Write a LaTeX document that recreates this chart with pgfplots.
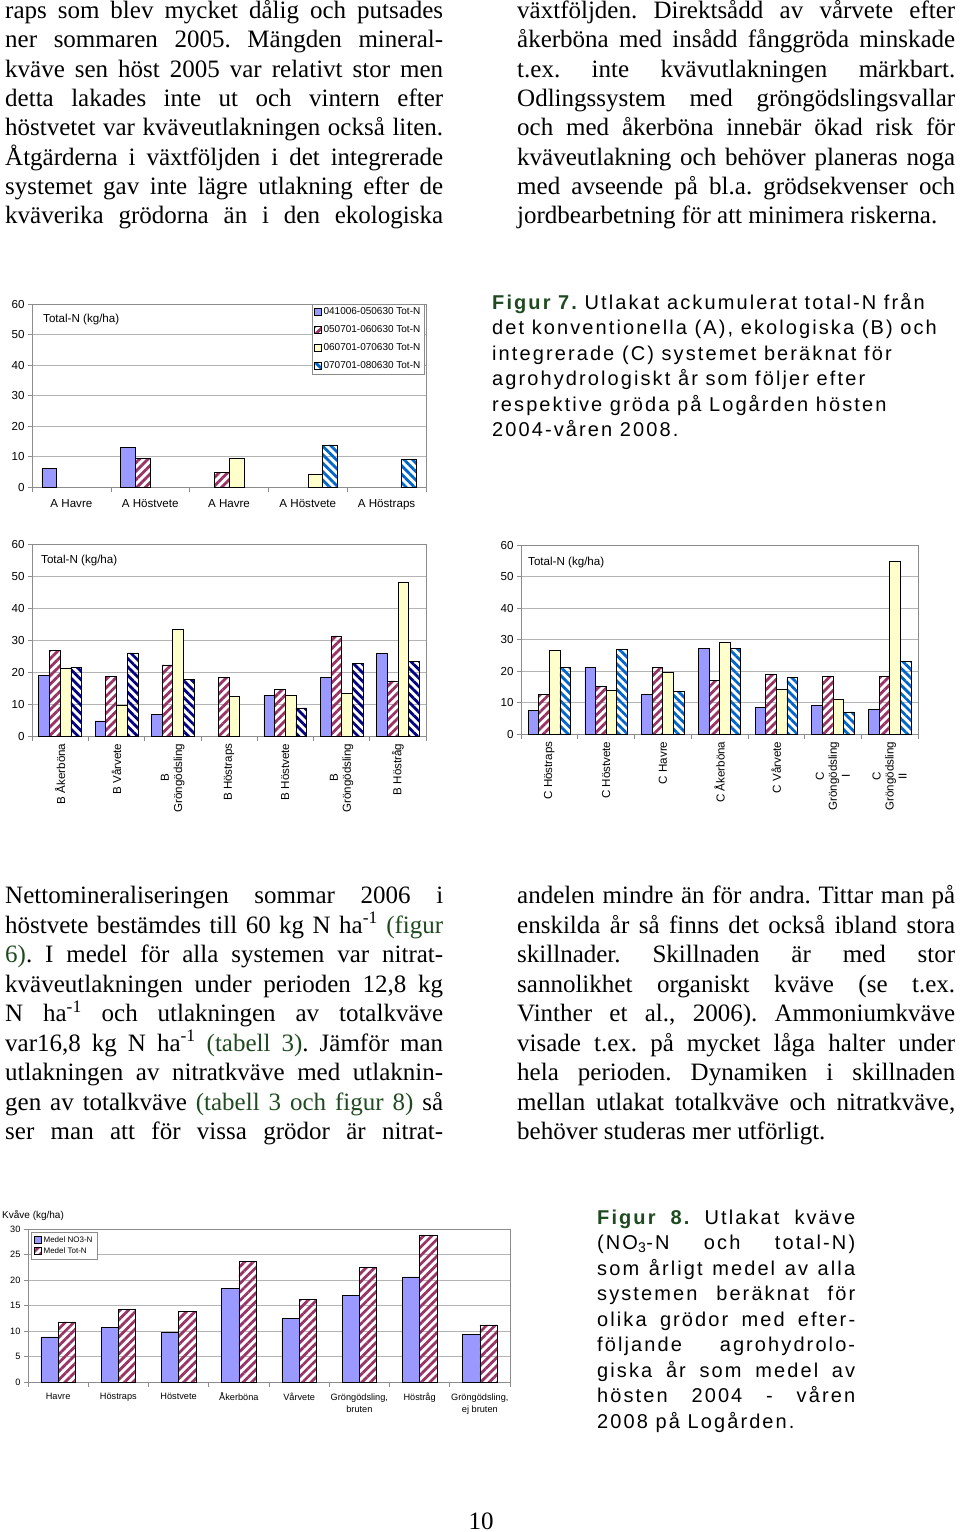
\documentclass[border=0pt]{standalone}
\usepackage{fontspec}
\setmainfont{Liberation Serif}
\setsansfont{Liberation Sans}
\newfontfamily\capfont[LetterSpace=10.5]{Liberation Sans}
\usepackage{pgfplots}
\pgfplotsset{compat=1.18}
\usetikzlibrary{patterns.meta}
\frenchspacing

\definecolor{peri}{HTML}{9999FF}
\definecolor{plum}{HTML}{993366}
\definecolor{cream}{HTML}{FFFFCC}
\definecolor{hblue}{HTML}{0066CC}
\definecolor{hnavy}{HTML}{000080}
\definecolor{axgray}{HTML}{8C8C8C}
\definecolor{gridgray}{HTML}{B4B4B4}
\definecolor{refgreen}{HTML}{1F4A1F}

\tikzset{
  s1/.style={fill=peri, draw=black, line width=0.6pt},
  s2/.style={draw=black, line width=0.6pt, pattern={Lines[angle=45,distance=6pt,line width=2.8pt]}, pattern color=plum},
  s3/.style={fill=cream, draw=black, line width=0.6pt},
  s4/.style={draw=black, line width=0.6pt, pattern={Lines[angle=-45,distance=6pt,line width=2.8pt]}, pattern color=hblue},
  s4n/.style={draw=black, line width=0.6pt, pattern={Lines[angle=-45,distance=6pt,line width=2.8pt]}, pattern color=hnavy},
}

\pgfplotsset{
  ybar legend/.style={legend image code/.code={\draw[##1,line width=0.5pt] (0pt,-3.5pt) rectangle (7pt,3.5pt);}},
  excel/.style={
    scale only axis, ybar=0pt, ymin=0, enlargelimits=false,
    axis line style={draw=axgray},
    ymajorgrids, grid style={draw=gridgray, line width=0.6pt},
    tick align=outside, xtick pos=bottom, ytick pos=left,
    major tick length=4pt, minor tick length=5pt,
    tick style={draw=axgray, line width=0.6pt},
    major x tick style={draw=none},
    minor x tick style={draw=axgray},
    tick label style={font=\sffamily\fontsize{11.6}{13}\selectfont},
    /pgf/number format/assume math mode=true,
    legend cell align=left,
  },
}

% lines of body text, captions
\newcommand\Ln[3]{\node[anchor=base west,inner sep=0pt,font=\fontsize{25}{29}\selectfont] at (#1pt,-#2pt) {#3};}
\newcommand\J[1]{\hbox to 438pt{#1}}
\newcommand\Cp[3]{\node[anchor=base west,inner sep=0pt,font=\capfont\fontsize{20}{24}\selectfont] at (#1pt,-#2pt) {#3};}
\newcommand\G[1]{\textcolor{refgreen}{#1}}
\newcommand\inv{\textsuperscript{-1}}

\begin{document}
\begin{tikzpicture}
\useasboundingbox (0pt,0pt) rectangle (960pt,-1532pt);

% ---------------- Figure 7, A ----------------
\begin{axis}[excel, at={(32pt,-487pt)}, anchor=south west,
  width=394pt, height=183pt,
  xmin=-0.5, xmax=4.5, ymax=60, ytick={0,10,...,60},
  xtick={0,...,4}, minor xtick={-0.5,0.5,...,4.5},
  xticklabels={A Havre, A Höstvete, A Havre, A Höstvete, A Höstraps},
  xticklabel style={yshift=-5pt},
  bar width=14.8pt,
  legend style={at={(0.995,1)}, anchor=north east, draw=axgray,
    font=\sffamily\fontsize{10}{11}\selectfont, row sep=5.6pt, inner sep=1.5pt}]
\addplot[s1] coordinates {(0,6.1) (1,12.9)};
\addplot[s2] coordinates {(1,9.5) (2,4.9)};
\addplot[s3] coordinates {(2,9.5) (3,4.2)};
\addplot[s4] coordinates {(3,13.8) (4,9.0)};
\legend{041006-050630 Tot-N, 050701-060630 Tot-N, 060701-070630 Tot-N, 070701-080630 Tot-N}
\end{axis}
\node[anchor=west,inner sep=0pt,font=\sffamily\fontsize{11.6}{13}\selectfont] at (43pt,-319pt) {Total-N (kg/ha)};

% ---------------- Figure 7, B ----------------
\begin{axis}[excel, at={(32pt,-736pt)}, anchor=south west,
  width=394pt, height=192pt,
  xmin=-0.5, xmax=6.5, ymax=60, ytick={0,10,...,60},
  xtick={0,...,6}, minor xtick={-0.5,0.5,...,6.5},
  xticklabels={B Åkerböna, B Vårvete, {B\\Gröngödsling}, B Höstraps, B Höstvete, {B\\Gröngödsling}, B Höstråg},
  xticklabel style={rotate=90, anchor=east, align=center},
  bar width=10.7pt]
\addplot[s1] coordinates {(0,18.9) (1,4.7) (2,6.7) (4,12.8) (5,18.3) (6,25.7)};
\addplot[s2] coordinates {(0,26.8) (1,18.6) (2,22.2) (3,18.2) (4,14.6) (5,31.3) (6,17.2)};
\addplot[s3] coordinates {(0,21.3) (1,9.7) (2,33.2) (3,12.5) (4,12.8) (5,13.2) (6,48.1)};
\addplot[s4n] coordinates {(0,21.5) (1,26.0) (2,17.8) (4,8.8) (5,22.7) (6,23.3)};
\end{axis}
\node[anchor=west,inner sep=0pt,font=\sffamily\fontsize{11.6}{13}\selectfont] at (41pt,-560pt) {Total-N (kg/ha)};

% ---------------- Figure 7, C ----------------
\begin{axis}[excel, at={(521pt,-734pt)}, anchor=south west,
  width=397pt, height=189pt,
  xmin=-0.5, xmax=6.5, ymax=60, ytick={0,10,...,60},
  xtick={0,...,6}, minor xtick={-0.5,0.5,...,6.5},
  xticklabels={C Höstraps, C Höstvete, C Havre, C Åkerböna, C Vårvete, {C\\Gröngödsling\\I}, {C\\Gröngödsling\\II}},
  xticklabel style={rotate=90, anchor=east, align=center},
  bar width=10.6pt]
\addplot[s1] coordinates {(0,7.6) (1,21.2) (2,12.6) (3,27.1) (4,8.5) (5,9.1) (6,7.9)};
\addplot[s2] coordinates {(0,12.6) (1,15.0) (2,21.2) (3,17.1) (4,18.9) (5,18.3) (6,18.3)};
\addplot[s3] coordinates {(0,26.6) (1,13.9) (2,19.5) (3,29.0) (4,14.2) (5,10.9) (6,54.9)};
\addplot[s4] coordinates {(0,21.2) (1,26.9) (2,13.6) (3,27.1) (4,18.0) (5,7.0) (6,23.0)};
\end{axis}
\node[anchor=west,inner sep=0pt,font=\sffamily\fontsize{11.6}{13}\selectfont] at (528pt,-562pt) {Total-N (kg/ha)};

% ---------------- Figure 8 ----------------
\begin{axis}[excel, at={(28pt,-1382pt)}, anchor=south west,
  width=482pt, height=153pt,
  xmin=-0.5, xmax=7.5, ymax=30, ytick={0,5,...,30},
  xtick={0,...,7}, minor xtick={-0.5,0.5,...,7.5},
  xticklabels={Havre, Höstraps, Höstvete, \smash{Å}kerböna, Vårvete, {Gröngödsling,\\bruten}, Höstråg, {Gröngödsling,\\ej bruten}},
  tick label style={font=\sffamily\fontsize{9.2}{12.5}\selectfont},
  xticklabel style={align=center, yshift=-4pt},
  bar width=17.3pt,
  legend style={at={(0.006,0.98)}, anchor=north west, draw=axgray,
    font=\sffamily\fontsize{8}{9}\selectfont, row sep=0pt}]
\addplot[s1] coordinates {(0,8.85) (1,10.7) (2,9.8) (3,18.4) (4,12.4) (5,17.0) (6,20.6) (7,9.4)};
\addplot[s2] coordinates {(0,11.8) (1,14.3) (2,13.9) (3,23.6) (4,16.2) (5,22.4) (6,28.8) (7,11.2)};
\legend{Medel NO3-N, Medel Tot-N}
\end{axis}
\node[anchor=west,inner sep=0pt,font=\sffamily\fontsize{10}{12}\selectfont] at (2pt,-1215pt) {Kvåve (kg/ha)};

% ---------------- body text ----------------
\Ln{5}{18.3}{\J{raps som blev mycket dålig och putsades}}
\Ln{5}{47.6}{\J{ner sommaren 2005. Mängden mineral-}}
\Ln{5}{77.0}{\J{kväve sen höst 2005 var relativt stor men}}
\Ln{5}{106.3}{\J{detta lakades inte ut och vintern efter}}
\Ln{5}{135.6}{\J{höstvetet var kväveutlakningen också liten.}}
\Ln{5}{165.0}{\J{Åtgärderna i växtföljden i det integrerade}}
\Ln{5}{194.3}{\J{systemet gav inte lägre utlakning efter de}}
\Ln{5}{223.6}{\J{kväverika grödorna än i den ekologiska}}

\Ln{517}{18.3}{\J{växtföljden. Direktsådd av vårvete efter}}
\Ln{517}{47.6}{\J{åkerböna med insådd fånggröda minskade}}
\Ln{517}{77.0}{\J{t.ex. inte kvävutlakningen märkbart.}}
\Ln{517}{106.3}{\J{Odlingssystem med gröngödslingsvallar}}
\Ln{517}{135.6}{\J{och med åkerböna innebär ökad risk för}}
\Ln{517}{165.0}{\J{kväveutlakning och behöver planeras noga}}
\Ln{517}{194.3}{\J{med avseende på bl.a. grödsekvenser och}}
\Ln{517}{223.6}{jordbearbetning för att minimera riskerna.}

\Ln{5}{903.5}{\J{Nettomineraliseringen sommar 2006 i}}
\Ln{5}{933.0}{\J{höstvete bestämdes till 60 kg N ha\inv{} \G{(figur}}}
\Ln{5}{962.5}{\J{\G{6)}. I medel för alla systemen var nitrat-}}
\Ln{5}{992.0}{\J{kväveutlakningen under perioden 12,8 kg}}
\Ln{5}{1021.5}{\J{N ha\inv{} och utlakningen av totalkväve}}
\Ln{5}{1051.0}{\J{var16,8 kg N ha\inv{} \G{(tabell 3)}. Jämför man}}
\Ln{5}{1080.5}{\J{utlakningen av nitratkväve med utlaknin-}}
\Ln{5}{1110.0}{\J{gen av totalkväve \G{(tabell 3 och figur 8)} så}}
\Ln{5}{1139.5}{\J{ser man att för vissa grödor är nitrat-}}

\Ln{517}{903.5}{\J{andelen mindre än för andra. Tittar man på}}
\Ln{517}{933.0}{\J{enskilda år så finns det också ibland stora}}
\Ln{517}{962.5}{\J{skillnader. Skillnaden är med stor}}
\Ln{517}{992.0}{\J{sannolikhet organiskt kväve (se t.ex.}}
\Ln{517}{1021.5}{\J{Vinther et al., 2006). Ammoniumkväve}}
\Ln{517}{1051.0}{\J{visade t.ex. på mycket låga halter under}}
\Ln{517}{1080.5}{\J{hela perioden. Dynamiken i skillnaden}}
\Ln{517}{1110.0}{\J{mellan utlakat totalkväve och nitratkväve,}}
\Ln{517}{1139.5}{behöver studeras mer utförligt.}

% ---------------- captions ----------------
\Cp{492}{309}{{\bfseries\color{refgreen}Figur 7.} Utlakat ackumulerat total-N från}
\Cp{492}{334.5}{det konventionella (A), ekologiska (B) och}
\Cp{492}{360}{integrerade (C) systemet beräknat för}
\Cp{492}{385.5}{agrohydrologiskt år som följer efter}
\Cp{492}{411}{respektive gröda på Logården hösten}
\Cp{492}{436.5}{2004-våren 2008.}

\Cp{597}{1224}{\hbox to 258pt{{\bfseries\color{refgreen}Figur 8.} Utlakat kväve}}
\Cp{597}{1249.5}{\hbox to 258pt{(NO\textsubscript{3}-N och total-N)}}
\Cp{597}{1275}{\hbox to 258pt{som årligt medel av alla}}
\Cp{597}{1300.5}{\hbox to 258pt{systemen beräknat för}}
\Cp{597}{1326}{\hbox to 258pt{olika grödor med efter-}}
\Cp{597}{1351.5}{\hbox to 258pt{följande agrohydrolo-}}
\Cp{597}{1377}{\hbox to 258pt{giska år som medel av}}
\Cp{597}{1402.5}{\hbox to 258pt{hösten 2004 - våren}}
\Cp{597}{1428}{2008 på Logården.}

\node[anchor=base,inner sep=0pt,font=\fontsize{25}{29}\selectfont] at (481pt,-1529pt) {10};
\end{tikzpicture}
\end{document}
